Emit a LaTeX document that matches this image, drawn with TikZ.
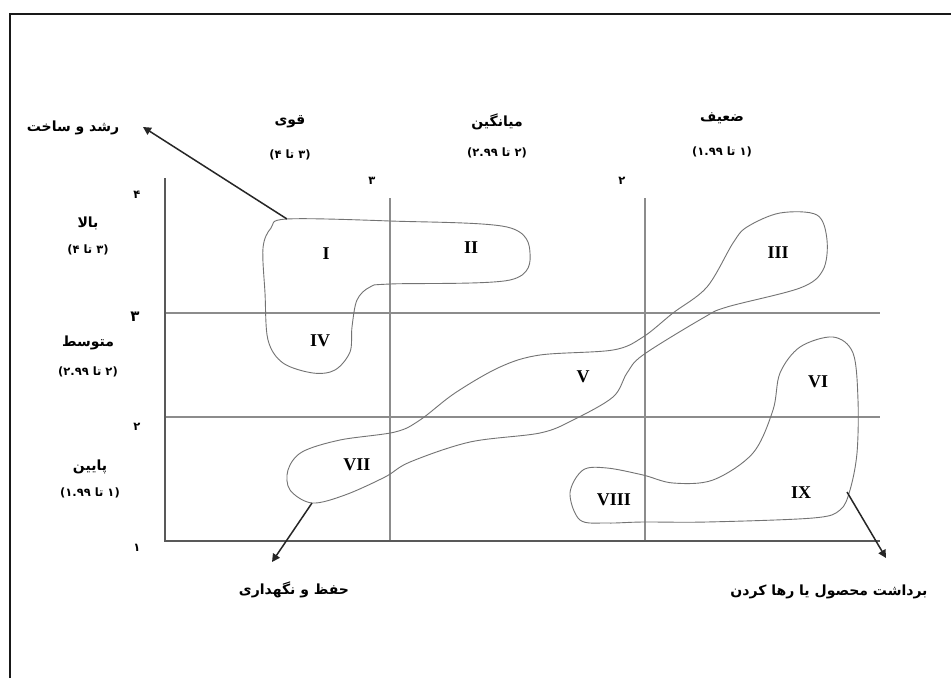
\documentclass[tikz,border=0pt]{standalone}
\usepackage{fontspec}
\setmainfont{Liberation Serif}
\newfontfamily\fa[Script=Arabic]{DejaVu Sans}
\usetikzlibrary{arrows.meta}
\TeXXeTstate=1
\begin{document}
\begin{tikzpicture}[x=1pt,y=-1pt,
  fatxt/.style={font=\fa\bfseries\fontsize{14}{16}\selectfont, inner sep=0pt},
  numtxt/.style={font=\fa\bfseries\fontsize{11.5}{13}\selectfont, inner sep=0pt},
  roman/.style={font=\bfseries\fontsize{18}{20}\selectfont, inner sep=0pt},
  grid/.style={draw=black!45, line width=1.1pt},
  axis/.style={draw=black!65, line width=1.6pt},
  blob/.style={draw=black!55, line width=0.9pt, smooth cycle, tension=0.55},
  arr/.style={draw=black!85, line width=1.5pt, -{Triangle[length=8pt,width=8pt]}}]
\useasboundingbox (0,0) rectangle (951,678);
\fill[white] (0,0) rectangle (951,678);
% frame
\draw[black!90, line width=2pt] (10,678) -- (10,14) -- (951,14);
% grid
\draw[grid] (390,198) -- (390,541);
\draw[grid] (645,198) -- (645,541);
\draw[grid] (165,313) -- (880,313);
\draw[grid] (165,417) -- (880,417);
\draw[axis] (165,178) -- (165,541) -- (880,541);
% blobs
\draw[blob] plot coordinates {(287,219) (390,221) (507,227) (530,253) (510,280) (390,284) (370,287) (357,300) (352,327) (350,352) (335,370) (313,373) (283,363) (268,340) (265,293) (263,248) (271,228)};
\draw[blob] plot coordinates {(747,227) (780,213) (817,215) (827,240) (823,270) (800,288) (727,307) (703,318) (643,355) (627,373) (613,397) (573,420) (540,433) (470,442) (410,462) (385,477) (345,495) (312,503) (290,490) (288,470) (302,452) (340,440) (395,432) (420,420) (455,393) (500,367) (540,355) (613,350) (643,337) (673,313) (707,287) (733,243)};
\draw[blob] plot coordinates {(833,337) (853,353) (858,400) (857,453) (850,490) (840,510) (813,518) (707,522) (643,522) (607,523) (580,520) (570,493) (583,470) (607,468) (643,475) (673,483) (713,480) (753,453) (773,410) (780,373) (800,347)};
% roman numerals
\node[roman] (c1) at (326,254) {I};
\node[roman] (c2) at (471,248) {II};
\node[roman] (c3) at (778,253) {III};
\node[roman] (c4) at (320,341) {IV};
\node[roman] (c5) at (583,377) {V};
\node[roman] (c6) at (818,382) {VI};
\node[roman] (c7) at (357,465) {VII};
\node[roman] (c8) at (614,500) {VIII};
\node[roman] (c9) at (801,493) {IX};
% top labels
\node[fatxt] (grow) at (73,128) {\beginR رشد و ساخت\endR};
\node[fatxt] (strong) at (290,122) {\beginR قوی\endR};
\node[numtxt] (strongr) at (290,155) {\beginR (۳ تا ۴)\endR};
\node[fatxt] (avg) at (497,122) {\beginR میانگین\endR};
\node[numtxt] (avgr) at (497,153) {\beginR (۲ تا ۲.۹۹)\endR};
\node[fatxt] (weak) at (722,118) {\beginR ضعیف\endR};
\node[numtxt] (weakr) at (722,152) {\beginR (۱ تا ۱.۹۹)\endR};
\node[numtxt] (t3) at (372,181) {۳};
\node[numtxt] (t2) at (622,181) {۲};
% left labels
\node[numtxt] (l4) at (137,195) {۴};
\node[fatxt] (high) at (88,223) {\beginR بالا\endR};
\node[numtxt] (highr) at (88,250) {\beginR (۳ تا ۴)\endR};
\node[numtxt, font=\fa\bfseries\fontsize{15}{16}\selectfont] (l3) at (135,317) {۳};
\node[fatxt] (mid) at (88,343) {\beginR متوسط\endR};
\node[numtxt] (midr) at (88,372) {\beginR (۲ تا ۲.۹۹)\endR};
\node[numtxt] (l2) at (137,427) {۲};
\node[fatxt] (low) at (90,467) {\beginR پایین\endR};
\node[numtxt] (lowr) at (90,493) {\beginR (۱ تا ۱.۹۹)\endR};
\node[numtxt] (l1) at (137,548) {۱};
% bottom labels
\node[fatxt] (hold) at (294,590) {\beginR حفظ و نگهداری\endR};
\node[fatxt] (harv) at (829,592) {\beginR برداشت محصول یا رها کردن\endR};
% arrows
\coordinate (a1s) at (287,219);
\coordinate (a1e) at (143,127);
\coordinate (a2s) at (312,503);
\coordinate (a2e) at (272,562);
\coordinate (a3s) at (847,492);
\coordinate (a3e) at (886,558);
\draw[arr] (a1s) -- (a1e);
\draw[arr] (a2s) -- (a2e);
\draw[arr] (a3s) -- (a3e);
\end{tikzpicture}
\end{document}
